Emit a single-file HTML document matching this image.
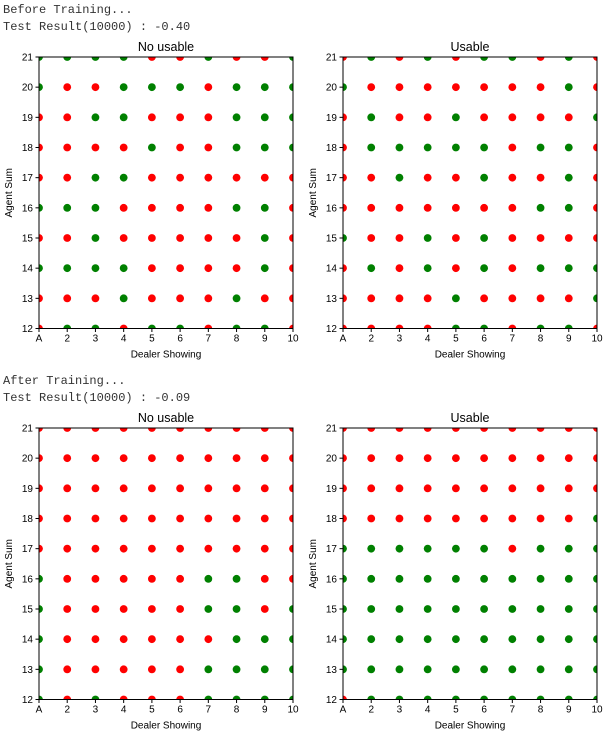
<!DOCTYPE html>
<html><head><meta charset="utf-8"><style>
body{margin:0;background:#fff;width:614px;height:737px;overflow:hidden}
svg{display:block}
.mono{font-family:"Liberation Mono",monospace;font-size:12px;fill:#333}
.t{font-family:"Liberation Sans",sans-serif;font-size:12.5px;fill:#000}
.k{font-family:"Liberation Sans",sans-serif;font-size:10px;fill:#000}
</style></head><body>
<svg id="root" width="614" height="737" xmlns="http://www.w3.org/2000/svg">
<text class="mono" x="3" y="13">Before Training...</text>
<text class="mono" x="3" y="30">Test Result(10000) : -0.40</text>
<text class="mono" x="3" y="384">After Training...</text>
<text class="mono" x="3" y="401">Test Result(10000) : -0.09</text>
</svg>
<script>
const dealerLabels=["A","2","3","4","5","6","7","8","9","10"];
const agentSums=[21,20,19,18,17,16,15,14,13,12];
const yTicks=[12,13,14,15,16,17,18,19,20,21];
const beforeNoUsable=["GGGGRRGRRG","GRRGGGRGGG","RRGGRRRGGG","RRRRGRRGGG","RRGGRRRRRR","GGGRRRRGGR","RRGRRRRRGR","GGGGRRRRGR","RRRGRRRGRR","RGGRGGRGGR"];
const beforeUsable=["RGRGRGGRGR","GRRRRRRRGR","RGRRGRRRRG","RGGGGGRGGR","RRGRRGRRGR","RRRRRRRGGR","GRRGRGRRRR","RGRGRGRGGG","RRRRGRRRRG","RRRRGGRGGR"];
const afterNoUsable=["RRRRRRRRRR","RRRRRRRRRR","RRRRRRRRRR","RRRRRRRRRR","RRRRRRRRRR","GRRRRRGGRR","GRRRRRGGRG","GRRRRRRGGG","GRRRRRGGGG","GRGRRRGGGG"];
const afterUsable=["RRRRRRRRRR","RRRRRRRRRR","RRRRRRRRRR","RRRRRRRRRG","GGGGGGRGGG","GGGGGGGGGG","GGGGGGGGGG","GGGGGGGGGG","GGGGGGGGGG","RGGGGGGGGG"];
const panels=[
 {name:"before-no-usable",title:"No usable",x0:39,y0:57,data:beforeNoUsable},
 {name:"before-usable",title:"Usable",x0:343,y0:57,data:beforeUsable},
 {name:"after-no-usable",title:"No usable",x0:39,y0:428,data:afterNoUsable},
 {name:"after-usable",title:"Usable",x0:343,y0:428,data:afterUsable}];
const NS="http://www.w3.org/2000/svg",root=document.getElementById('root');
const W=254,H=271.5;
function mk(t,a,p){const e=document.createElementNS(NS,t);for(const k in a)e.setAttribute(k,a[k]);(p||root).appendChild(e);return e;}
panels.forEach((P,pi)=>{
 const xs=i=>P.x0+i*W/9, ys=v=>P.y0+H-(v-12)*H/9;
 const g=mk('g',{});
 
 
 const cp=mk('clipPath',{id:'c'+pi},g);mk('rect',{x:P.x0,y:P.y0,width:W,height:H},cp);
 const dots=mk('g',{'clip-path':'url(#c'+pi+')'},g);
 P.data.forEach((row,r)=>{for(let c=0;c<10;c++){
  const d=mk('circle',{cx:xs(c),cy:ys(agentSums[r]),r:3.9,fill:row[c]==='G'?'#008000':'#ff0000'},dots);
  
  
 }});
 const fr=mk('rect',{x:P.x0,y:P.y0,width:W,height:H,fill:'none',stroke:'#000','stroke-width':1},g);
 
 
 dealerLabels.forEach((l,i)=>{mk('line',{x1:xs(i),x2:xs(i),y1:P.y0+H,y2:P.y0+H+3.5,stroke:'#000'},g);
  const t=mk('text',{x:xs(i),y:P.y0+H+13,'text-anchor':'middle',class:'k'},g);t.textContent=l;
  
  });
 yTicks.forEach(v=>{mk('line',{x1:P.x0-3.5,x2:P.x0,y1:ys(v),y2:ys(v),stroke:'#000'},g);
  const t=mk('text',{x:P.x0-6,y:ys(v)+3.5,'text-anchor':'end',class:'k'},g);t.textContent=v;
  
  });
 const ti=mk('text',{x:P.x0+W/2,y:P.y0-6,'text-anchor':'middle',class:'t'},g);ti.textContent=P.title;
 
 
 const xl=mk('text',{x:P.x0+W/2,y:P.y0+H+29,'text-anchor':'middle',class:'k'},g);xl.textContent="Dealer Showing";
 
 
 const yl=mk('text',{x:0,y:0,'text-anchor':'middle',class:'k',transform:`translate(${P.x0-27},${P.y0+H/2}) rotate(-90)`},g);yl.textContent="Agent Sum";
 
 
});
</script>
</body></html>
